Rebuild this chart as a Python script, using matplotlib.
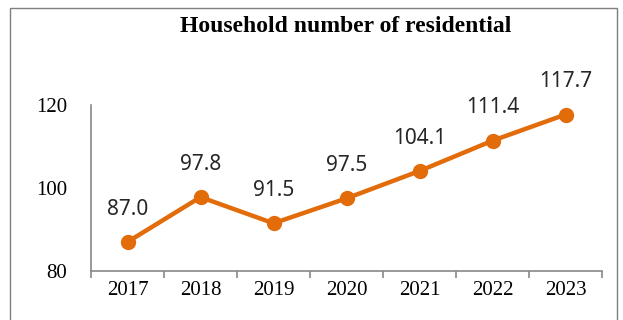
import matplotlib.pyplot as plt
from matplotlib.patches import Rectangle

# data
years = ["2017", "2018", "2019", "2020", "2021", "2022", "2023"]
households = [87.0, 97.8, 91.5, 97.5, 104.1, 111.4, 117.7]
y_ticks = [80, 100, 120]

W, H = 623, 320
fig = plt.figure(figsize=(W / 100, H / 100), dpi=100)
ax = fig.add_axes([91 / W, 1 - 271 / H, (602 - 91) / W, (271 - 105) / H])

# frame around the whole chart
fig.patches.append(Rectangle((10 / W, -0.1), 607 / W, 1.1 - 8 / H,
                             transform=fig.transFigure, fill=False,
                             edgecolor="#7f7f7f", linewidth=1.0))

color = "#E36C0A"
x = list(range(len(years)))
ax.plot(x, households, color=color, linewidth=3.2, marker="o",
        markersize=10, solid_capstyle="round")

for xi, v in zip(x, households):
    ax.annotate(f"{v:.1f}", (xi, v), xytext=(0, 16), textcoords="offset points",
                ha="center", va="bottom", fontsize=15, family="Noto Sans",
                color="#262626")

ax.set_xlim(-0.5, len(years) - 0.5)
ax.set_ylim(80, 120)
ax.set_yticks(y_ticks)
ax.set_yticklabels([str(t) for t in y_ticks], family="Liberation Serif", fontsize=15)
ax.set_xticks(x)
ax.set_xticklabels(years, family="Liberation Serif", fontsize=15)
ax.set_xticks([i - 0.5 for i in range(len(years) + 1)], minor=True)
ax.tick_params(axis="x", which="major", length=0, pad=7)
ax.tick_params(axis="x", which="minor", length=5, color="#888888", width=1.2)
ax.tick_params(axis="y", length=0, pad=17)

for s in ["top", "right"]:
    ax.spines[s].set_visible(False)
for s in ["left", "bottom"]:
    ax.spines[s].set_color("#888888")
    ax.spines[s].set_linewidth(1.2)

fig.text(346 / W, 1 - 26 / H, "Household number of residential", ha="center",
         va="center", family="Liberation Serif", fontweight="bold", fontsize=17)

fig.savefig("out.png", dpi=100)
